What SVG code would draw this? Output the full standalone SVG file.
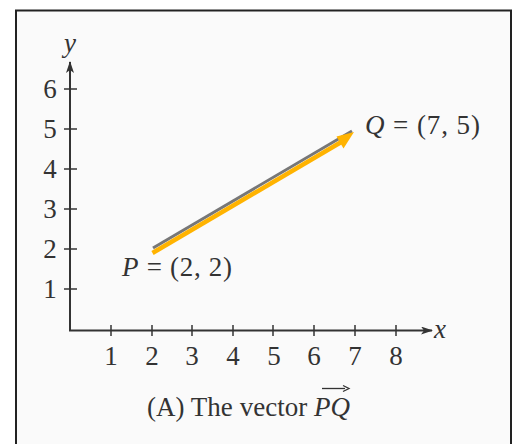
<svg xmlns="http://www.w3.org/2000/svg" width="515" height="444" viewBox="0 0 515 444">
<defs>
<style>
.t{font-family:"Liberation Serif","Times New Roman",serif;font-size:27px;fill:#333}
.i{font-style:italic}
.ax{stroke:#333;stroke-width:2;fill:none}
.tk{stroke:#333;stroke-width:1.5}
</style>
<marker id="axh" markerWidth="12" markerHeight="8" refX="11" refY="4" orient="auto" markerUnits="userSpaceOnUse">
<path d="M0,0 L12,4 L0,8 L3,4 Z" fill="#333"/>
</marker>
</defs>
<rect x="0" y="0" width="515" height="444" fill="#ffffff"/>
<rect x="16" y="10.5" width="495" height="440" fill="#fafafa" stroke="#222" stroke-width="2"/>
<g id="axes">
<path class="ax" d="M70,330 L70,62" marker-end="url(#axh)"/>
<path class="ax" d="M69,330.5 L432,330.5" marker-end="url(#axh)"/>
<g class="tk">
<line x1="64" y1="89" x2="77" y2="89"/>
<line x1="64" y1="129" x2="77" y2="129"/>
<line x1="64" y1="169" x2="77" y2="169"/>
<line x1="64" y1="209" x2="77" y2="209"/>
<line x1="64" y1="249" x2="77" y2="249"/>
<line x1="64" y1="289" x2="77" y2="289"/>
<line x1="111" y1="325" x2="111" y2="336"/>
<line x1="152" y1="325" x2="152" y2="336"/>
<line x1="192" y1="325" x2="192" y2="336"/>
<line x1="233" y1="325" x2="233" y2="336"/>
<line x1="273" y1="325" x2="273" y2="336"/>
<line x1="314" y1="325" x2="314" y2="336"/>
<line x1="355" y1="325" x2="355" y2="336"/>
<line x1="396" y1="325" x2="396" y2="336"/>
</g>
<g class="t" text-anchor="middle">
<text x="50" y="98">6</text>
<text x="50" y="138">5</text>
<text x="50" y="178">4</text>
<text x="50" y="218">3</text>
<text x="50" y="258">2</text>
<text x="50" y="298">1</text>
<text x="111" y="365">1</text>
<text x="152" y="365">2</text>
<text x="192" y="365">3</text>
<text x="233" y="365">4</text>
<text x="274" y="365">5</text>
<text x="314" y="365">6</text>
<text x="355" y="365">7</text>
<text x="396" y="365">8</text>
</g>
<text class="t i" x="70" y="52" text-anchor="middle">y</text>
<text class="t i" x="440" y="338" text-anchor="middle">x</text>
</g>
<g id="vector">
<line x1="153" y1="248" x2="352" y2="131" stroke="#777" stroke-width="3"/>
<line x1="152.5" y1="253" x2="343" y2="141" stroke="#FFB300" stroke-width="4.5"/>
<path d="M354,132 L336.5,136.5 L343.5,148.5 Z" fill="#FFB300"/>
</g>
<g id="labelP"><text class="t" x="122" y="276" textLength="110" lengthAdjust="spacing"><tspan class="i">P</tspan> = (2, 2)</text></g>
<g id="labelQ"><text class="t" x="365" y="134" textLength="115" lengthAdjust="spacing"><tspan class="i">Q</tspan> = (7, 5)</text></g>
<g id="caption">
<text class="t" x="147" y="416" textLength="203" lengthAdjust="spacing">(A) The vector <tspan class="i">PQ</tspan></text>
<line x1="322" y1="388.5" x2="345" y2="388.5" stroke="#333" stroke-width="1.3"/>
<path d="M343,385.5 L349,388.5 L343,391.5" fill="none" stroke="#333" stroke-width="1.3"/>
</g>
</svg>
